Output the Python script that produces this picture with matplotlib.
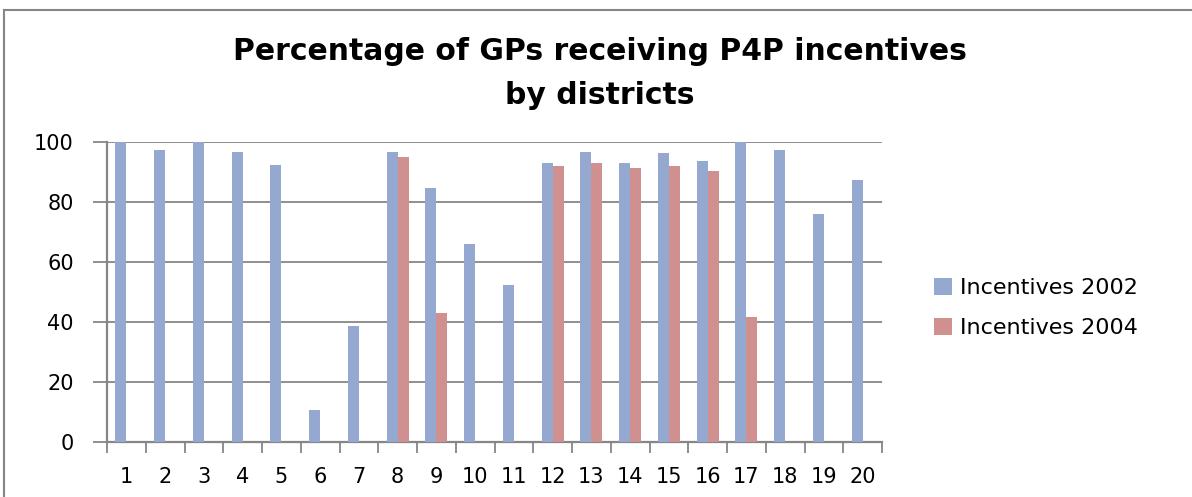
import matplotlib
matplotlib.use('agg')
import matplotlib.pyplot as plt
import numpy as np
from matplotlib.lines import Line2D

# Values
districts = [str(i) for i in range(1, 21)]
incentives_2002 = [100, 97.2, 100, 96.6, 92.3, 10.7, 38.7, 96.6, 84.6, 66.0,
                   52.3, 92.9, 96.6, 92.9, 96.2, 93.6, 100, 97.2, 76.0, 87.3]
incentives_2004 = [0, 0, 0, 0, 0, 0, 0, 94.9, 43.0, 0,
                   0, 91.9, 92.9, 91.2, 91.9, 90.3, 41.7, 0, 0, 0]
series_names = ["Incentives 2002", "Incentives 2004"]
yticks = [0, 20, 40, 60, 80, 100]

blue = "#94a8d0"
red = "#d09090"
grid_grey = "#868686"

fig = plt.figure(figsize=(11.92, 4.97), dpi=100)
ax = fig.add_axes([107 / 1192, 1 - 442 / 497, 775 / 1192, 300 / 497])

x = np.arange(len(districts))
w = 1 / 3.5
ax.bar(x - w / 2, incentives_2002, width=w, color=blue, label=series_names[0], zorder=3)
ax.bar(x + w / 2, incentives_2004, width=w, color=red, label=series_names[1], zorder=3)

ax.set_xlim(-0.5, len(districts) - 0.5)
ax.set_ylim(0, 100)
ax.set_yticks(yticks)
ax.set_yticklabels([str(v) for v in yticks], fontsize=15, family="DejaVu Sans")
ax.yaxis.grid(True, color=grid_grey, linewidth=1.3, zorder=0)

# category labels centred, tick marks between categories
ax.set_xticks(x)
ax.set_xticklabels(districts, fontsize=15, family="DejaVu Sans")
ax.tick_params(axis="x", length=0, pad=18)
ax.set_xticks(np.arange(-0.5, len(districts)), minor=True)
ax.tick_params(axis="x", which="minor", length=8, color=grid_grey, width=1.3)
ax.tick_params(axis="y", length=10, color=grid_grey, width=1.3, pad=14)

for s in ["top", "right"]:
    ax.spines[s].set_visible(False)
for s in ["left", "bottom"]:
    ax.spines[s].set_color(grid_grey)
    ax.spines[s].set_linewidth(1.6)

fig.text(600 / 1192, 1 - 52 / 497, "Percentage of GPs receiving P4P incentives",
         ha="center", va="center", fontsize=21.5, family="DejaVu Sans", fontweight="bold")
fig.text(600 / 1192, 1 - 95 / 497, "by districts",
         ha="center", va="center", fontsize=21.5, family="DejaVu Sans", fontweight="bold")

ax.legend(loc="center left", bbox_to_anchor=(934 / 1192, 1 - 308 / 497),
          bbox_transform=fig.transFigure, frameon=False,
          prop={"family": "DejaVu Sans", "size": 16},
          handlelength=0.8, handleheight=0.8, handletextpad=0.35, labelspacing=0.9,
          borderpad=0, borderaxespad=0)

# outer chart border (top and left visible in the picture)
fig.add_artist(Line2D([4 / 1192, 4 / 1192], [0, 1 - 10 / 497], color=grid_grey, lw=1.5))
fig.add_artist(Line2D([4 / 1192, 1], [1 - 10 / 497, 1 - 10 / 497], color=grid_grey, lw=1.5))

fig.savefig("out.png", dpi=100)
